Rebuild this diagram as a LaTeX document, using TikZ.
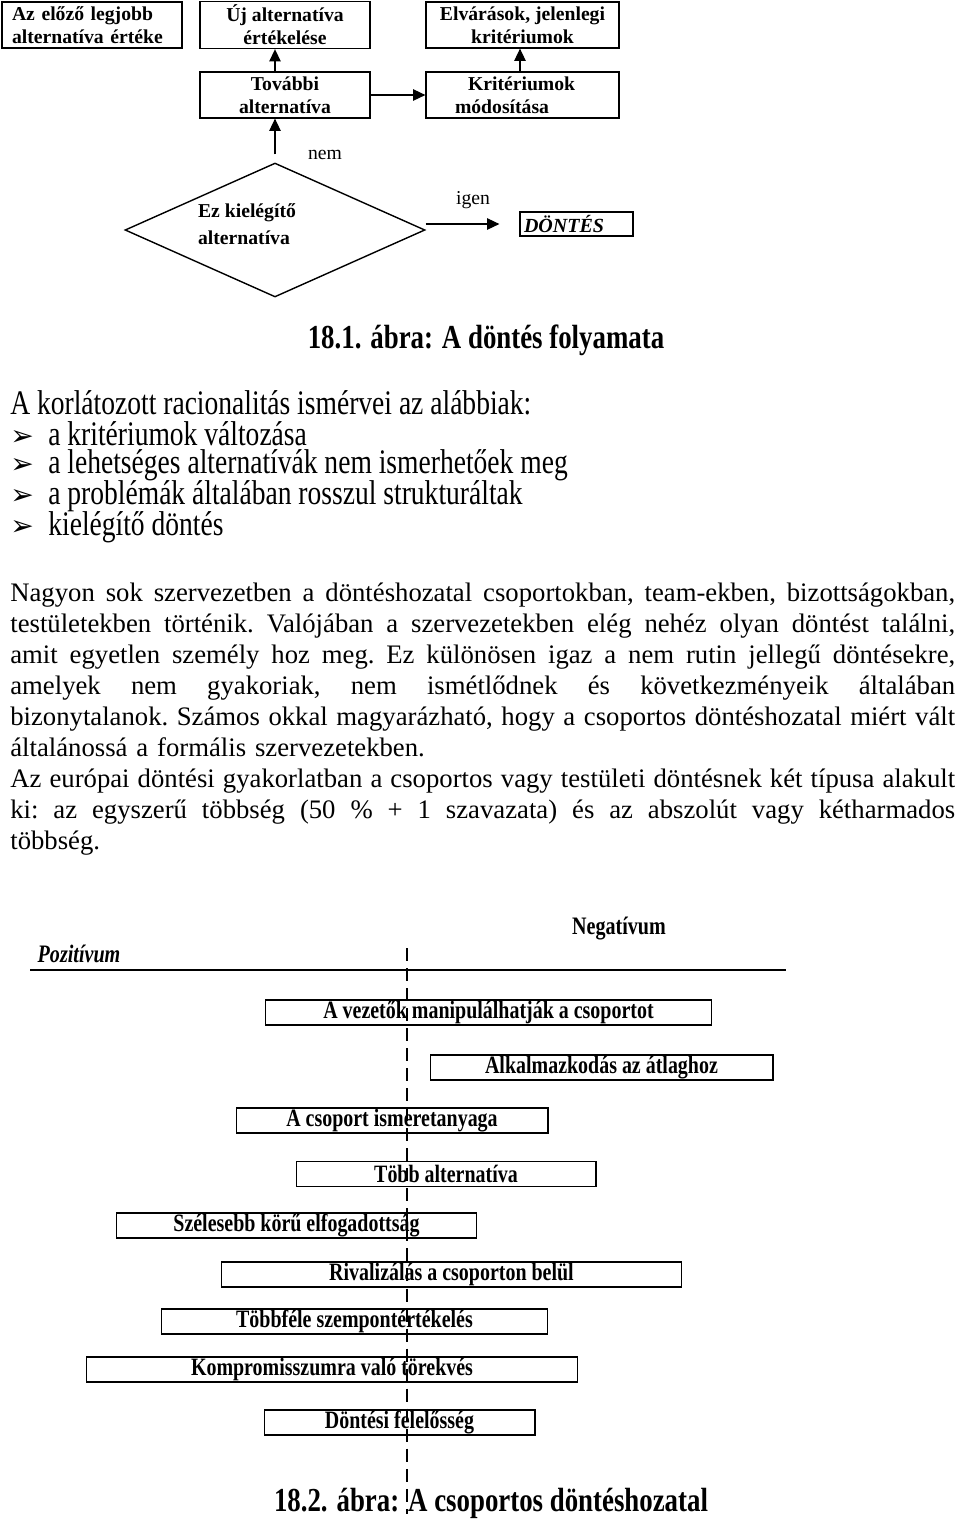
\documentclass[tikz,border=0pt]{standalone}
\usepackage{fontspec}
\setmainfont{Liberation Serif}
\newfontfamily\narrowfont[FakeStretch=0.8]{Liberation Serif}
\newfontfamily\symfont{DejaVu Sans}
\usetikzlibrary{arrows.meta,shapes.geometric,calc}

\newcommand{\bul}{\makebox[0.76cm][l]{\symfont\fontsize{16}{16}\selectfont ➢}}
\newcommand{\jline}[1]{\leavevmode\hbox to 18.9cm{\spaceskip=0.25em plus 1em minus 0.08em\relax #1}}

\begin{document}
\begin{tikzpicture}[
        x=0.02cm, y=-0.02cm,
        fbox/.style={draw, line width=0.7pt, minimum height=0.92cm, inner sep=2pt, align=center, font=\fontsize{11.2}{13.1}\selectfont\bfseries},
        decision/.style={diamond, draw, line width=0.8pt, minimum width=6cm, minimum height=2.68cm, inner sep=0},
        flabel/.style={font=\fontsize{11.2}{13.1}\selectfont},
        arr/.style={-{Triangle[length=7pt,width=6.5pt]}, line width=0.7pt},
        caption/.style={font=\narrowfont\bfseries\fontsize{19.1}{22}\selectfont},
        listline/.style={anchor=west, inner sep=0, font=\narrowfont\fontsize{19.6}{22}\selectfont},
        para/.style={anchor=north west, inner sep=0, align=left, text width=18.9cm, font=\fontsize{15.2}{17.6}\selectfont\frenchspacing},
        gbox/.style={draw, line width=0.6pt, minimum height=0.5cm, inner sep=0, font=\narrowfont\bfseries\fontsize{14.2}{16}\selectfont},
        side/.style={font=\narrowfont\bfseries\fontsize{14.3}{16}\selectfont},
        axis/.style={line width=1.7pt, dash pattern=on 7.4pt off 4pt}
    ]
    \useasboundingbox (0,0) rectangle (960,1522);

    % --- 18.1: the decision process ---
    \node[fbox, minimum width=3.6cm, text width=3.2cm, align=left] (prevbest) at (92,25) {Az előző legjobb\\alternatíva értéke};
    \node[fbox, minimum width=3.4cm] (newalt) at (285,25) {Új alternatíva\\értékelése};
    \node[fbox, minimum width=3.86cm] (expect) at (522.5,25) {Elvárások, jelenlegi\\kritériumok};
    \node[fbox, minimum width=3.4cm] (further) at (285,95) {További\\alternatíva};
    \node[fbox, minimum width=3.86cm, text width=2.7cm, align=left] (modify) at (522.5,95) {\hspace*{0.26cm}Kritériumok\\módosítása};
    \node[decision] (decide) at (275,230) {};
    \node[flabel, font=\fontsize{11.2}{15.4}\selectfont\bfseries, align=left] (decidetext) at (247,224) {Ez kielégítő\\alternatíva};
    \node[draw, line width=0.7pt, minimum width=2.26cm, minimum height=0.48cm, inner sep=0,
          text width=2.1cm, align=left, font=\fontsize{11.4}{13.1}\selectfont\bfseries\itshape] (dontes) at (576.5,224) {DÖNTÉS};

    \draw[arr] (further.north -| decide.north) -- (newalt.south -| decide.north);
    \draw[arr] (modify.north -| 520,0) -- (expect.south -| 520,0);
    \draw[arr] (further) -- (modify);
    \draw[arr, shorten <=0.16cm] (decide.north) -- (decide.north |- further.south);
    \draw[arr, shorten >=0.4cm] (decide.east |- dontes.west) -- (dontes.west);
    \node[flabel] (nolabel) at (325,155) {nem};
    \node[flabel] (yeslabel) at (473,200) {igen};

    \node[caption] (cap1) at (486,340) {18.1. ábra: A döntés folyamata};

    % --- bounded rationality list ---
    \node[listline] (listhead) at (10,403) {A korlátozott racionalitás ismérvei az alábbiak:};
    \node[listline] (li1) at (10,434) {\bul a kritériumok változása};
    \node[listline] (li2) at (10,465) {\bul a lehetséges alternatívák nem ismerhetőek meg};
    \node[listline] (li3) at (10,496) {\bul a problémák általában rosszul strukturáltak};
    \node[listline] (li4) at (10,527) {\bul kielégítő döntés};

    % --- running text ---
    \node[para] (body) at (10,583) {%
        \jline{Nagyon sok szervezetben a döntéshozatal csoportokban, team-ekben, bizottságokban,}\\
        \jline{testületekben történik. Valójában a szervezetekben elég nehéz olyan döntést találni,}\\
        \jline{amit egyetlen személy hoz meg. Ez különösen igaz a nem rutin jellegű döntésekre,}\\
        \jline{amelyek nem gyakoriak, nem ismétlődnek és következményeik általában}\\
        \jline{bizonytalanok. Számos okkal magyarázható, hogy a csoportos döntéshozatal miért vált}\\
        általánossá a formális szervezetekben.\\
        \jline{Az európai döntési gyakorlatban a csoportos vagy testületi döntésnek két típusa alakult}\\
        \jline{ki: az egyszerű többség (50 \% + 1 szavazata) és az abszolút vagy kétharmados}\\
        többség.};

    % --- 18.2: group decision making ---
    \node[side, font=\narrowfont\bfseries\itshape\fontsize{14.3}{16}\selectfont] (pos) at (79,954) {Pozitívum};
    \node[side] (neg) at (619,929) {Negatívum};
    \coordinate (rulel) at (30,970);
    \coordinate (ruler) at (786,970);
    \draw[line width=0.6pt] (rulel) -- (ruler);

    \node[gbox, minimum width=8.94cm] (lead) at (488.5,1012.5) {A vezetők manipulálhatják a csoportot};
    \node[gbox, minimum width=6.86cm] (adapt) at (601.5,1067.5) {Alkalmazkodás az átlaghoz};
    \node[gbox, minimum width=6.24cm] (know) at (392,1120.5) {A csoport ismeretanyaga};
    \node[gbox, minimum width=6cm] (morealt) at (446,1174) {Több alternatíva};
    \node[gbox, minimum width=7.22cm] (accept) at (296.5,1225.5) {Szélesebb körű elfogadottság};
    \node[gbox, minimum width=9.22cm] (rival) at (451.5,1274.5) {Rivalizálás a csoporton belül};
    \node[gbox, minimum width=7.74cm] (multi) at (354.5,1321.5) {Többféle szempontértékelés};
    \node[gbox, minimum width=9.84cm] (comp) at (332,1369.5) {Kompromisszumra való törekvés};
    \node[gbox, minimum width=5.42cm] (resp) at (399.5,1422.5) {Döntési felelősség};

    \node[caption] (cap2) at (491,1503) {18.2. ábra: A csoportos döntéshozatal};

    \coordinate (axtop) at (407,948);
    \coordinate (axbot) at (407,1514);
    \draw[axis] (axtop) -- (axbot);
\end{tikzpicture}
\end{document}
